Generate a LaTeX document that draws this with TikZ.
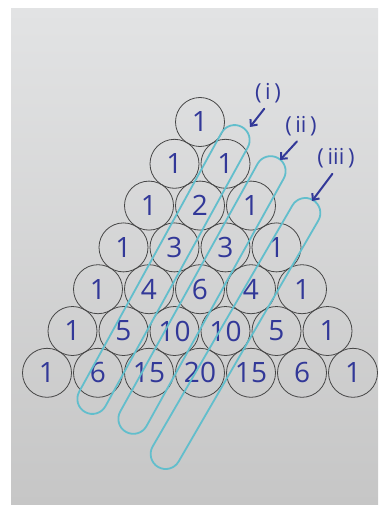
\documentclass[tikz,border=0pt]{standalone}
\usepackage{fontspec}
\setmainfont{Open Sans}
\usetikzlibrary{arrows.meta,positioning,calc}

\definecolor{ink}{RGB}{50,56,152}
\definecolor{marker}{RGB}{98,190,204}
\definecolor{rim}{RGB}{70,70,70}
\definecolor{paperTop}{RGB}{226,227,228}
\definecolor{paperBot}{RGB}{198,198,198}

\begin{document}
\begin{tikzpicture}[
  x=1pt, y=-1pt,
  every node/.style={text=ink},
  cell/.style={circle, draw=rim, line width=0.8pt, minimum size=49pt, inner sep=0pt, font=\fontsize{28}{28}\selectfont},
  tag/.style={inner sep=1pt, font=\fontsize{22}{22}\selectfont},
  loopline/.style={draw=marker, line width=1.8pt, rounded corners=15pt},
  pointer/.style={-{Straight Barb[length=5pt, width=9pt]}, draw=ink, line width=2pt, line cap=round, shorten <=6pt}
]

\useasboundingbox (0,0) rectangle (378,505);
\fill[white] (0,0) rectangle (378,505);
\shade[top color=paperTop, bottom color=paperBot] (11,9) rectangle (378,505);

\node[cell] (r0c0) at (200,122) {1};

\node[cell] (r1c0) at (174.5,163.8) {1};
\node[cell] (r1c1) at (225.5,163.8) {1};

\node[cell] (r2c0) at (149,205.6) {1};
\node[cell] (r2c1) at (200,205.6) {2};
\node[cell] (r2c2) at (251,205.6) {1};

\node[cell] (r3c0) at (123.5,247.4) {1};
\node[cell] (r3c1) at (174.5,247.4) {3};
\node[cell] (r3c2) at (225.5,247.4) {3};
\node[cell] (r3c3) at (276.5,247.4) {1};

\node[cell] (r4c0) at (98,289.2) {1};
\node[cell] (r4c1) at (149,289.2) {4};
\node[cell] (r4c2) at (200,289.2) {6};
\node[cell] (r4c3) at (251,289.2) {4};
\node[cell] (r4c4) at (302,289.2) {1};

\node[cell] (r5c0) at (72.5,331) {1};
\node[cell] (r5c1) at (123.5,331) {5};
\node[cell] (r5c2) at (174.5,331) {10};
\node[cell] (r5c3) at (225.5,331) {10};
\node[cell] (r5c4) at (276.5,331) {5};
\node[cell] (r5c5) at (327.5,331) {1};

\node[cell] (r6c0) at (47,372.8) {1};
\node[cell] (r6c1) at (98,372.8) {6};
\node[cell] (r6c2) at (149,372.8) {15};
\node[cell] (r6c3) at (200,372.8) {20};
\node[cell] (r6c4) at (251,372.8) {15};
\node[cell] (r6c5) at (302,372.8) {6};
\node[cell] (r6c6) at (353,372.8) {1};

\draw[loopline, rotate around={61.2:(163.5,269.5)}] (0.8,254.5) rectangle (326.2,284.5);
\draw[loopline, rotate around={61.0:(202,295)}] (45.4,280) rectangle (358.6,310);
\draw[loopline, rotate around={59.9:(235.5,333.5)}] (81.2,318.5) rectangle (389.8,348.5);

\node[tag] (lab1) at (268,93) {(\,i\,)};
\node[tag] (lab2) at (301,126) {(\,ii\,)};
\node[tag] (lab3) at (336,158) {(\,iii\,)};

\coordinate (tip1) at (250,127);
\coordinate (tip2) at (280,160);
\coordinate (tip3) at (312,201);

\draw[pointer] (lab1.south) -- (tip1);
\draw[pointer] (lab2.south) -- (tip2);
\draw[pointer] (lab3.south) -- (tip3);

\end{tikzpicture}
\end{document}
